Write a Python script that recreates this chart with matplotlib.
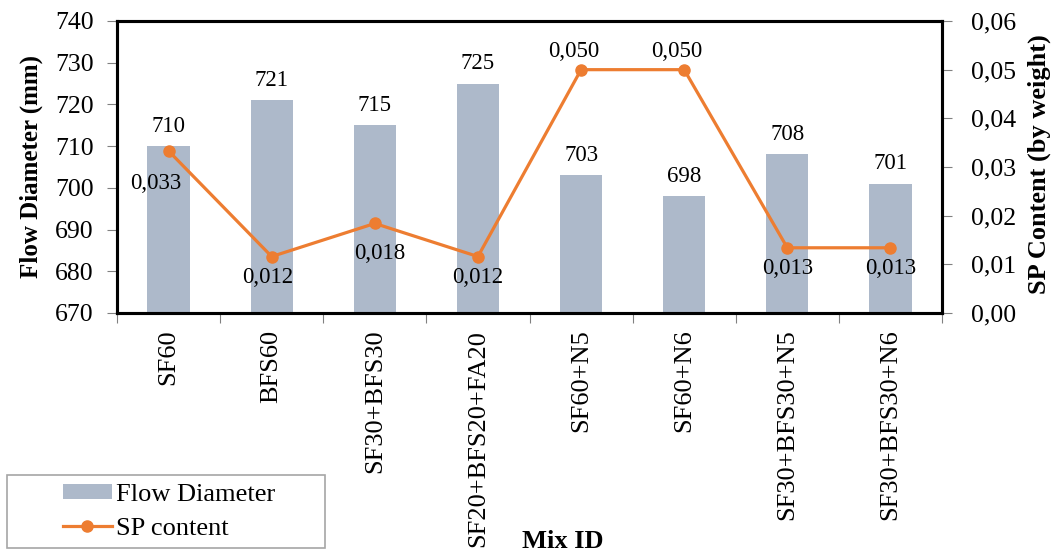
import numpy as np
import matplotlib.pyplot as plt
from matplotlib.patches import Rectangle

plt.rcParams['font.family'] = ['Liberation Serif', 'DejaVu Serif']

# --- data ---
mixes = ["SF60", "BFS60", "SF30+BFS30", "SF20+BFS20+FA20",
         "SF60+N5", "SF60+N6", "SF30+BFS30+N5", "SF30+BFS30+N6"]
flow_diameter = [710, 721, 715, 725, 703, 698, 708, 701]
sp_content = [0.0333, 0.0116, 0.0184, 0.0116, 0.050, 0.050, 0.0134, 0.0134]
sp_labels = ["0,033", "0,012", "0,018", "0,012", "0,050", "0,050", "0,013", "0,013"]

# label nudges for the SP values (category units, SP units)
lab_dx = [-0.12, -0.04, 0.05, 0.0, -0.07, -0.07, 0.0, 0.0]
lab_dy = [-0.0045, -0.0022, -0.0040, -0.0022, 0.0026, 0.0026, -0.0022, -0.0022]

bar_color = "#ADB9CA"
line_color = "#ED7D31"

W, H = 1051, 554
fig = plt.figure(figsize=(W / 100, H / 100), dpi=100)
ax = fig.add_axes([117 / W, 1 - 313 / H, 825 / W, 292 / H])
ax2 = ax.twinx()

x = np.arange(len(mixes))
ax.bar(x, flow_diameter, width=0.41, color=bar_color, zorder=2,
       label="Flow Diameter")
for xi, v in zip(x, flow_diameter):
    ax.text(xi, v + 2.3, str(v), ha="center", va="bottom", fontsize=16.5)

ax.set_xlim(-0.5, len(mixes) - 0.5)
ax.set_ylim(670, 740)
ax.set_yticks(range(670, 741, 10))
ax.set_xticks(np.arange(-0.5, len(mixes), 1), minor=False)
ax.set_xticklabels([])
ax.set_xticks(x, minor=True)
ax.set_xticklabels(mixes, minor=True, rotation=90, fontsize=19)
ax.tick_params(axis="x", which="minor", length=0, pad=12)
ax.tick_params(axis="x", which="major", length=7, color="#808080", direction="out")
ax.tick_params(axis="y", length=7, color="#808080", labelsize=18.5, pad=10)
ax.set_ylabel("Flow Diameter (mm)", fontsize=18, fontweight="bold")
ax.yaxis.set_label_coords(-0.0897, 0.5)

ln, = ax2.plot(x, sp_content, color=line_color, lw=2.3, marker="o", ms=8,
               label="SP content", zorder=3)
for xi, v, s, dx, dy in zip(x, sp_content, sp_labels, lab_dx, lab_dy):
    va = "baseline" if dy > 0 else "top"
    ax2.text(xi + dx, v + dy, s, ha="center", va=va, fontsize=16.5)
ax2.set_ylim(0, 0.06)
ax2.set_yticks(np.arange(0, 0.061, 0.01))
ax2.set_yticklabels([f"{t:.2f}".replace(".", ",") for t in np.arange(0, 0.061, 0.01)])
ax2.tick_params(axis="y", length=7, color="#808080", labelsize=18.5, pad=14)
ax2.set_ylabel("SP Content (by weight)", fontsize=19, fontweight="bold")
ax2.yaxis.set_label_coords(1.104, 0.51)

for a in (ax, ax2):
    for sp in a.spines.values():
        sp.set_color("black")
        sp.set_linewidth(2.2)

fig.text(563 / W, 1 - 542 / H, "Mix ID", ha="center", va="center",
         fontsize=19, fontweight="bold")

# legend box sits in the lower-left corner
fig.patches.append(Rectangle((7 / W, 1 - 548 / H), 318 / W, 73 / H,
                             transform=fig.transFigure, fill=False,
                             edgecolor="#A6A6A6", lw=1.2))
handles = [ax.patches[0], ln]
leg = fig.legend(handles, ["Flow Diameter", "SP content"],
                 loc="center left", bbox_to_anchor=(63 / W, 1 - 512 / H),
                 fontsize=19, frameon=False, handleheight=0.5,
                 borderpad=0, labelspacing=0.45, handlelength=1.85,
                 handletextpad=0.15, borderaxespad=0)

fig.savefig("out.png", dpi=100)
